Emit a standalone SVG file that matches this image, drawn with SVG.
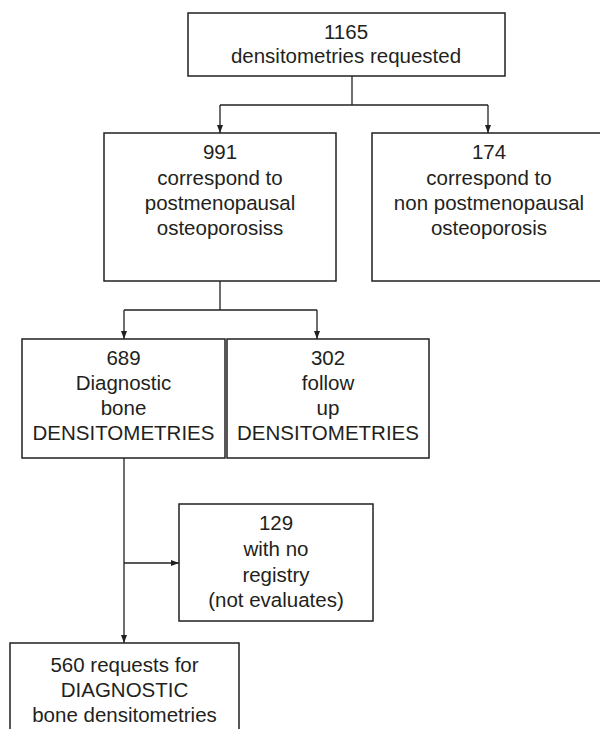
<svg xmlns="http://www.w3.org/2000/svg" width="600" height="729" viewBox="0 0 600 729">
  <defs>
    <marker id="arr" viewBox="0 0 8 6" refX="8" refY="3" markerWidth="8" markerHeight="6" markerUnits="userSpaceOnUse" orient="auto">
      <path d="M0,0 L8,3 L0,6 Z" fill="#231f20"/>
    </marker>
    <style>
      .box { fill: #ffffff; stroke: #231f20; stroke-width: 1.5; }
      .t { font-family: "Liberation Sans", Arial, Helvetica, sans-serif; font-size: 20.5px; fill: #231f20; text-anchor: middle; }
      .c { fill: none; stroke: #231f20; stroke-width: 1.3; }
    </style>
  </defs>
  <rect width="600" height="729" fill="#ffffff"/>

  <g id="connectors">
    <path class="c" d="M352,76 V105"/>
    <path class="c" d="M220,105 H488"/>
    <path class="c" d="M220,105 V133" marker-end="url(#arr)"/>
    <path class="c" d="M488,105 V133" marker-end="url(#arr)"/>
    <path class="c" d="M220,281 V310"/>
    <path class="c" d="M124,310 H317"/>
    <path class="c" d="M124,310 V339" marker-end="url(#arr)"/>
    <path class="c" d="M317,310 V339" marker-end="url(#arr)"/>
    <path class="c" d="M124,458 V643" marker-end="url(#arr)"/>
    <path class="c" d="M124,563 H179" marker-end="url(#arr)"/>
  </g>

  <g id="n1165">
    <rect class="box" x="188" y="13" width="317" height="63"/>
    <text class="t" x="346" y="39">1165</text>
    <text class="t" x="346" y="63">densitometries requested</text>
  </g>

  <g id="n991">
    <rect class="box" x="104" y="133" width="232" height="148"/>
    <text class="t" x="220" y="159">991</text>
    <text class="t" x="220" y="184.5">correspond to</text>
    <text class="t" x="220" y="210">postmenopausal</text>
    <text class="t" x="220" y="235">osteoporosiss</text>
  </g>

  <g id="n174">
    <rect class="box" x="372" y="133" width="234" height="148"/>
    <text class="t" x="489" y="159">174</text>
    <text class="t" x="489" y="184.5">correspond to</text>
    <text class="t" x="489" y="210">non postmenopausal</text>
    <text class="t" x="489" y="235">osteoporosis</text>
  </g>

  <g id="n689">
    <rect class="box" x="22" y="339" width="203" height="119"/>
    <text class="t" x="123.5" y="365">689</text>
    <text class="t" x="123.5" y="390">Diagnostic</text>
    <text class="t" x="123.5" y="415">bone</text>
    <text class="t" x="123.5" y="440">DENSITOMETRIES</text>
  </g>

  <g id="n302">
    <rect class="box" x="227" y="339" width="202" height="119"/>
    <text class="t" x="328" y="365">302</text>
    <text class="t" x="328" y="390">follow</text>
    <text class="t" x="328" y="415">up</text>
    <text class="t" x="328" y="440">DENSITOMETRIES</text>
  </g>

  <g id="n129">
    <rect class="box" x="179" y="504" width="194" height="117"/>
    <text class="t" x="276" y="530">129</text>
    <text class="t" x="276" y="556">with no</text>
    <text class="t" x="276" y="582">registry</text>
    <text class="t" x="276" y="607">(not evaluates)</text>
  </g>

  <g id="n560">
    <rect class="box" x="10" y="643" width="229" height="100"/>
    <text class="t" x="124.5" y="672">560 requests for</text>
    <text class="t" x="124.5" y="697">DIAGNOSTIC</text>
    <text class="t" x="124.5" y="722">bone densitometries</text>
  </g>
</svg>
